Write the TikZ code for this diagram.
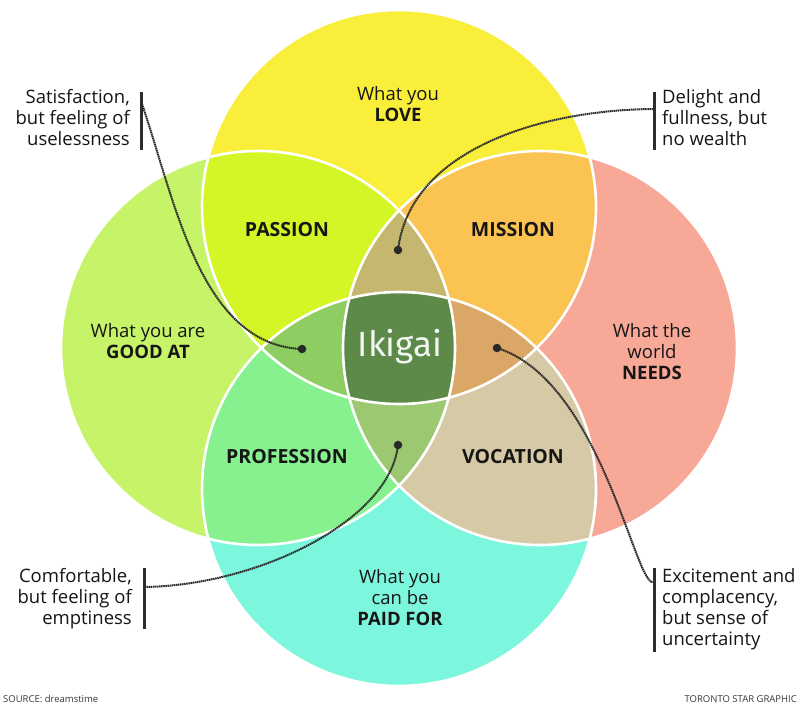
\documentclass[tikz,border=0pt]{standalone}
\usepackage{fontspec}
\setmainfont{Open Sans}
\newfontfamily\ikifont{Fira Sans}
\definecolor{cYel}{RGB}{249,238,58}
\definecolor{cGrn}{RGB}{198,243,104}
\definecolor{cSal}{RGB}{248,168,150}
\definecolor{cCyn}{RGB}{124,247,222}
\definecolor{cPas}{RGB}{212,245,38}
\definecolor{cMis}{RGB}{251,196,82}
\definecolor{cPro}{RGB}{134,241,142}
\definecolor{cVoc}{RGB}{214,201,165}
\definecolor{cTop}{RGB}{197,182,112}
\definecolor{cLft}{RGB}{142,205,98}
\definecolor{cRgt}{RGB}{219,167,102}
\definecolor{cBot}{RGB}{155,200,112}
\definecolor{cCen}{RGB}{93,138,72}
\definecolor{ink}{RGB}{22,22,22}
\definecolor{conn}{RGB}{40,40,40}
\begin{document}
\begin{tikzpicture}[x=1pt,y=-1pt,
  lab/.style={text=ink,align=center,font=\fontsize{18.5}{21}\selectfont,inner sep=0pt},
  blab/.style={text=ink,align=center,font=\fontsize{19.5}{21}\selectfont\bfseries,inner sep=0pt},
  note/.style={text=ink,font=\fontsize{18.5}{21}\selectfont,inner sep=0pt},
  barline/.style={draw=ink!90,line width=3pt},
  connline/.style={draw=conn,line width=2pt,dash pattern=on 1.5pt off 0.6pt},
  dotn/.style={circle,fill=conn,inner sep=0pt,minimum size=8.5pt},
  rim/.style={draw=white,line width=2.6pt},
  credit/.style={text=ink!85,font=\fontsize{9.5}{11}\selectfont,inner sep=0pt}]
\useasboundingbox (0,0) rectangle (800,707);
\fill[white] (0,0) rectangle (800,707);
\coordinate (cT) at (399,207);
\coordinate (cL) at (258,348);
\coordinate (cR) at (540,348);
\coordinate (cB) at (399,489);
\def\pT{(cT) circle (197pt)}
\def\pL{(cL) circle (197pt)}
\def\pR{(cR) circle (197pt)}
\def\pB{(cB) circle (197pt)}
% single circles
\fill[cYel] \pT;
\fill[cGrn] \pL;
\fill[cSal] \pR;
\fill[cCyn] \pB;
% pairs
\begin{scope}\clip \pT; \fill[cPas] \pL; \end{scope}
\begin{scope}\clip \pT; \fill[cMis] \pR; \end{scope}
\begin{scope}\clip \pL; \fill[cPro] \pB; \end{scope}
\begin{scope}\clip \pR; \fill[cVoc] \pB; \end{scope}
% triples
\begin{scope}\clip \pT; \clip \pL; \fill[cTop] \pR; \end{scope}
\begin{scope}\clip \pT; \clip \pL; \fill[cLft] \pB; \end{scope}
\begin{scope}\clip \pT; \clip \pR; \fill[cRgt] \pB; \end{scope}
\begin{scope}\clip \pL; \clip \pR; \fill[cBot] \pB; \end{scope}
% center
\begin{scope}\clip \pT; \clip \pL; \clip \pR; \fill[cCen] \pB; \end{scope}
% white rims
\draw[rim] \pT;
\draw[rim] \pL;
\draw[rim] \pR;
\draw[rim] \pB;
% labels
\node[lab] (love) at (398,104) {What you\\\textbf{LOVE}};
\node[blab] (passion) at (287,230) {PASSION};
\node[blab] (mission) at (513,230) {MISSION};
\node[lab] (good) at (148,341) {What you are\\\textbf{GOOD AT}};
\node[lab] (needs) at (652,352) {What the\\world\\\textbf{NEEDS}};
\node[blab] (profession) at (287,457) {PROFESSION};
\node[blab] (vocation) at (513,457) {VOCATION};
\node[lab] (paid) at (400,598) {What you\\can be\\\textbf{PAID FOR}};
\node[text=white!92!cCen,font=\ikifont\fontsize{35}{40}\selectfont,inner sep=0pt] (iki) at (400,347) {Ikigai};
% annotations
\node[note,align=right,anchor=north east] (n1) at (130,89) {Satisfaction,\\but feeling of\\uselessness};
\node[note,align=left,anchor=north west] (n2) at (662,89) {Delight and\\fullness, but\\no wealth};
\node[note,align=right,anchor=north east] (n3) at (132,568) {Comfortable,\\but feeling of\\emptiness};
\node[note,align=left,anchor=north west] (n4) at (662,568) {Excitement and\\complacency,\\but sense of\\uncertainty};
% bars
\coordinate (b1t) at (141,92); \coordinate (b1b) at (141,150);
\coordinate (b2t) at (654,92); \coordinate (b2b) at (654,150);
\coordinate (b3t) at (144,568); \coordinate (b3b) at (144,629);
\coordinate (b4t) at (654,568); \coordinate (b4b) at (654,652);
\draw[barline] (b1t) -- (b1b);
\draw[barline] (b2t) -- (b2b);
\draw[barline] (b3t) -- (b3b);
\draw[barline] (b4t) -- (b4b);
% connectors
\coordinate (s1) at (142,104);
\coordinate (s2) at (653,109);
\coordinate (s3) at (145,587);
\coordinate (s4) at (653,582);
\node[dotn] (d1) at (302,349) {};
\node[dotn] (d2) at (398,250) {};
\node[dotn] (d3) at (497,348) {};
\node[dotn] (d4) at (398,445) {};
\draw[connline] (s1) .. controls (175,200) and (200,345) .. (d1.center);
\draw[connline] (s2) .. controls (540,110) and (410,150) .. (d2.center);
\draw[connline] (d3.center) .. controls (600,380) and (635,585) .. (s4);
\draw[connline] (d4.center) .. controls (390,520) and (260,585) .. (s3);
% credits
\node[credit,anchor=west] (src) at (3,699) {SOURCE: dreamstime};
\node[credit,anchor=east] (tsg) at (797,699) {TORONTO STAR GRAPHIC};
\end{tikzpicture}
\end{document}
